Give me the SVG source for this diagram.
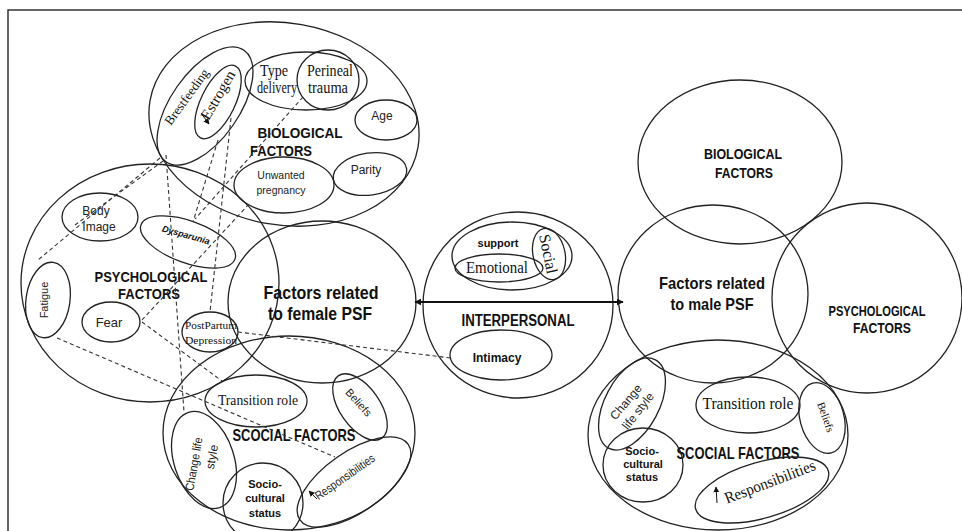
<svg xmlns="http://www.w3.org/2000/svg" width="962" height="531" viewBox="0 0 962 531">
<defs>
<marker id="ah" viewBox="0 0 10 10" refX="9" refY="5" markerWidth="7" markerHeight="7" orient="auto-start-reverse" markerUnits="userSpaceOnUse"><path d="M0,0 L10,5 L0,10 z" fill="#111"/></marker>
<marker id="sa" viewBox="0 0 10 10" refX="9" refY="5" markerWidth="6" markerHeight="6" orient="auto" markerUnits="userSpaceOnUse"><path d="M0,0 L10,5 L0,10 z" fill="#111"/></marker>
</defs>
<style>
.e{fill:none;stroke:#222;stroke-width:1.3}
.d{fill:none;stroke:#333;stroke-width:1.1;stroke-dasharray:4 3}
.b{font-family:"Liberation Sans",Arial,sans-serif;font-weight:bold;fill:#111;text-anchor:middle}
.s{font-family:"Liberation Sans",Arial,sans-serif;fill:#222;text-anchor:middle}
.r{font-family:"Liberation Serif","Times New Roman",serif;fill:#111;text-anchor:middle}
</style>
<rect width="962" height="531" fill="#fff"/>
<path d="M8,531 V10 H962" fill="none" stroke="#333" stroke-width="1.5"/>

<g id="female-biological">
<ellipse class="e" cx="284" cy="124" rx="136" ry="101" transform="rotate(10 284 124)"/>
<text class="b" x="300" y="138" font-size="15" textLength="85" lengthAdjust="spacingAndGlyphs">BIOLOGICAL</text>
<text class="b" x="281" y="156" font-size="15" textLength="62" lengthAdjust="spacingAndGlyphs">FACTORS</text>
</g>
<g id="brestfeeding">
<ellipse class="e" cx="205" cy="106" rx="68" ry="34" transform="rotate(-55 205 106)"/>
<text class="r" x="187" y="101" font-size="13" transform="rotate(-54 187 97)" textLength="66" lengthAdjust="spacingAndGlyphs">Brestfeeding</text>
</g>
<g id="estrogen">
<ellipse class="e" cx="218" cy="102" rx="40" ry="17" transform="rotate(-64 218 102)"/>
<text class="r" x="218" y="100" font-size="15" transform="rotate(-60 218 95)" textLength="54" lengthAdjust="spacingAndGlyphs">Estrogen</text>
<line x1="201" y1="113" x2="209" y2="124" stroke="#111" stroke-width="1" marker-end="url(#sa)"/>
</g>
<g id="type-delivery">
<ellipse class="e" cx="306" cy="81" rx="61" ry="29"/>
<text class="r" x="274" y="76" font-size="16" textLength="28" lengthAdjust="spacingAndGlyphs">Type</text>
<text class="r" x="277" y="93" font-size="16" textLength="40" lengthAdjust="spacingAndGlyphs">delivery</text>
</g>
<g id="perineal-trauma">
<ellipse class="e" cx="328" cy="80" rx="31" ry="30"/>
<text class="r" x="330" y="76" font-size="16" textLength="46" lengthAdjust="spacingAndGlyphs">Perineal</text>
<text class="r" x="328" y="93" font-size="16" textLength="40" lengthAdjust="spacingAndGlyphs">trauma</text>
</g>
<g id="age">
<ellipse class="e" cx="386" cy="120" rx="31" ry="20"/>
<text class="s" x="382" y="120" font-size="12">Age</text>
</g>
<g id="unwanted-pregnancy">
<ellipse class="e" cx="284" cy="185" rx="50" ry="28"/>
<text class="s" x="281" y="179" font-size="10.5">Unwanted</text>
<text class="s" x="281" y="194" font-size="10.5">pregnancy</text>
</g>
<g id="parity">
<ellipse class="e" cx="370" cy="174" rx="37" ry="21" transform="rotate(-8 370 174)"/>
<text class="s" x="366" y="174" font-size="12">Parity</text>
</g>

<g id="female-psychological">
<ellipse class="e" cx="150" cy="283" rx="129" ry="119"/>
<text class="b" x="151" y="282" font-size="15" textLength="113" lengthAdjust="spacingAndGlyphs">PSYCHOLOGICAL</text>
<text class="b" x="149" y="299" font-size="15" textLength="62" lengthAdjust="spacingAndGlyphs">FACTORS</text>
</g>
<g id="body-image">
<ellipse class="e" cx="100" cy="217" rx="38" ry="24"/>
<text class="s" x="96" y="215" font-size="12">Body</text>
<text class="s" x="99" y="231" font-size="12">Image</text>
</g>
<g id="dysparunia">
<ellipse class="e" cx="188" cy="242" rx="50" ry="21" transform="rotate(20 188 242)"/>
<text class="b" x="186" y="238" font-size="9" font-style="italic" transform="rotate(16 186 235)">Dysparunia</text>
</g>
<g id="fatigue">
<ellipse class="e" cx="48" cy="300" rx="22" ry="38" transform="rotate(8 48 300)"/>
<text class="s" x="44" y="304" font-size="11" transform="rotate(-90 44 300)">Fatigue</text>
</g>
<g id="fear">
<ellipse class="e" cx="111" cy="322" rx="29" ry="20"/>
<text class="s" x="109" y="327" font-size="13">Fear</text>
</g>
<g id="postpartum-depression">
<ellipse class="e" cx="210" cy="332" rx="28" ry="20"/>
<text class="r" x="211" y="329" font-size="11" textLength="52" lengthAdjust="spacingAndGlyphs">PostPartum</text>
<text class="r" x="211" y="344" font-size="11" textLength="52" lengthAdjust="spacingAndGlyphs">Depression</text>
</g>

<g id="female-psf">
<ellipse class="e" cx="322" cy="302" rx="94" ry="81"/>
<text class="b" x="321" y="299" font-size="18" textLength="115" lengthAdjust="spacingAndGlyphs">Factors related</text>
<text class="b" x="320" y="320" font-size="18" textLength="104" lengthAdjust="spacingAndGlyphs">to female PSF</text>
</g>

<g id="female-social">
<ellipse class="e" cx="289" cy="433" rx="126" ry="97"/>
<text class="b" x="294" y="441" font-size="17" textLength="123" lengthAdjust="spacingAndGlyphs">SCOCIAL FACTORS</text>
</g>
<g id="transition-role-f">
<ellipse class="e" cx="256" cy="401" rx="51" ry="26"/>
<text class="r" x="258" y="405" font-size="15" textLength="80" lengthAdjust="spacingAndGlyphs">Transition role</text>
</g>
<g id="beliefs-f">
<ellipse class="e" cx="360" cy="407" rx="38" ry="20" transform="rotate(55 360 407)"/>
<text class="s" x="358" y="406" font-size="11" transform="rotate(48 358 403)">Beliefs</text>
</g>
<g id="change-life-style-f">
<ellipse class="e" cx="204" cy="460" rx="30" ry="50" transform="rotate(-18 204 460)"/>
<text class="s" x="194" y="468" font-size="12" transform="rotate(-80 194 464)" textLength="54" lengthAdjust="spacingAndGlyphs">Change life</text>
<text class="s" x="212" y="461" font-size="12" transform="rotate(-80 212 457)">style</text>
</g>
<g id="sociocultural-f">
<circle class="e" cx="263" cy="503" r="40"/>
<text class="b" x="265" y="488" font-size="11">Socio-</text>
<text class="b" x="265" y="502" font-size="11">cultural</text>
<text class="b" x="265" y="517" font-size="11">status</text>
</g>
<g id="responsibilities-f">
<ellipse class="e" cx="354" cy="482" rx="66" ry="30" transform="rotate(-35 354 482)"/>
<text class="s" x="345" y="481" font-size="12" transform="rotate(-35 345 477)" textLength="70" lengthAdjust="spacingAndGlyphs">Responsibilities</text>
<line x1="317" y1="499" x2="309" y2="491" stroke="#111" stroke-width="1" marker-end="url(#sa)"/>
</g>

<g id="interpersonal">
<ellipse class="e" cx="518" cy="305" rx="95" ry="93"/>
<text class="b" x="518" y="326" font-size="16" textLength="113" lengthAdjust="spacingAndGlyphs">INTERPERSONAL</text>
</g>
<g id="social-support">
<ellipse class="e" cx="512" cy="256" rx="60" ry="34"/>
<text class="b" x="498" y="247" font-size="11">support</text>
<ellipse class="e" cx="549" cy="254" rx="16" ry="26" transform="rotate(-12 549 254)"/>
<text class="r" x="548" y="259" font-size="16" transform="rotate(78 548 254)">Social</text>
</g>
<g id="emotional">
<ellipse class="e" cx="499" cy="268" rx="44" ry="14"/>
<text class="r" x="497" y="273" font-size="17" textLength="62" lengthAdjust="spacingAndGlyphs">Emotional</text>
</g>
<g id="intimacy">
<ellipse class="e" cx="501" cy="355" rx="51" ry="25"/>
<text class="b" x="497" y="362" font-size="12">Intimacy</text>
</g>

<g id="male-biological">
<ellipse class="e" cx="740" cy="162" rx="102" ry="82"/>
<text class="b" x="743" y="159" font-size="15" textLength="78" lengthAdjust="spacingAndGlyphs">BIOLOGICAL</text>
<text class="b" x="744" y="178" font-size="15" textLength="58" lengthAdjust="spacingAndGlyphs">FACTORS</text>
</g>
<g id="male-psf">
<ellipse class="e" cx="713" cy="294" rx="95" ry="89"/>
<text class="b" x="712" y="289" font-size="17" textLength="106" lengthAdjust="spacingAndGlyphs">Factors related</text>
<text class="b" x="712" y="310" font-size="17" textLength="83" lengthAdjust="spacingAndGlyphs">to male PSF</text>
</g>
<g id="male-psychological">
<ellipse class="e" cx="867" cy="298" rx="95" ry="95"/>
<text class="b" x="877" y="316" font-size="15" textLength="97" lengthAdjust="spacingAndGlyphs">PSYCHOLOGICAL</text>
<text class="b" x="882" y="333" font-size="15" textLength="58" lengthAdjust="spacingAndGlyphs">FACTORS</text>
</g>
<g id="male-social">
<ellipse class="e" cx="718" cy="435" rx="130" ry="95"/>
<text class="b" x="738" y="459" font-size="17" textLength="123" lengthAdjust="spacingAndGlyphs">SCOCIAL FACTORS</text>
</g>
<g id="change-life-style-m">
<ellipse class="e" cx="632" cy="404" rx="50" ry="27" transform="rotate(-62 632 404)"/>
<text class="s" x="626" y="406" font-size="12" transform="rotate(-50 626 402)">Change</text>
<text class="s" x="638" y="415" font-size="12" transform="rotate(-52 638 411)">life style</text>
</g>
<g id="sociocultural-m">
<ellipse class="e" cx="643" cy="465" rx="40" ry="37"/>
<text class="b" x="642" y="455" font-size="11">Socio-</text>
<text class="b" x="643" y="468" font-size="11">cultural</text>
<text class="b" x="642" y="481" font-size="11">status</text>
</g>
<g id="transition-role-m">
<ellipse class="e" cx="748" cy="405" rx="52" ry="28"/>
<text class="r" x="748" y="409" font-size="17" textLength="91" lengthAdjust="spacingAndGlyphs">Transition role</text>
</g>
<g id="beliefs-m">
<ellipse class="e" cx="822" cy="418" rx="22" ry="36" transform="rotate(-15 822 418)"/>
<text class="r" x="826" y="421" font-size="11" transform="rotate(70 826 417)">Beliefs</text>
</g>
<g id="responsibilities-m">
<ellipse class="e" cx="762" cy="490" rx="69" ry="28" transform="rotate(-16 762 490)"/>
<text class="r" x="770" y="487" font-size="16" transform="rotate(-21 770 482)" textLength="96" lengthAdjust="spacingAndGlyphs">Responsibilities</text>
<line x1="717" y1="503" x2="716" y2="487" stroke="#111" stroke-width="1" marker-end="url(#sa)"/>
</g>

<g id="connectors">
<line x1="415" y1="302" x2="623" y2="302" stroke="#111" stroke-width="2" marker-start="url(#ah)" marker-end="url(#ah)"/>
<line class="d" x1="160" y1="158" x2="38" y2="260"/>
<line class="d" x1="163" y1="161" x2="75" y2="225"/>
<line class="d" x1="166" y1="155" x2="184" y2="412"/>
<line class="d" x1="218" y1="140" x2="193" y2="222"/>
<line class="d" x1="231" y1="118" x2="210" y2="312"/>
<line class="d" x1="303" y1="97" x2="195" y2="219"/>
<line class="d" x1="249" y1="204" x2="142" y2="320"/>
<line class="d" x1="142" y1="322" x2="222" y2="381"/>
<line class="d" x1="57" y1="338" x2="335" y2="457"/>
<line class="d" x1="238" y1="332" x2="451" y2="358"/>
</g>
</svg>
